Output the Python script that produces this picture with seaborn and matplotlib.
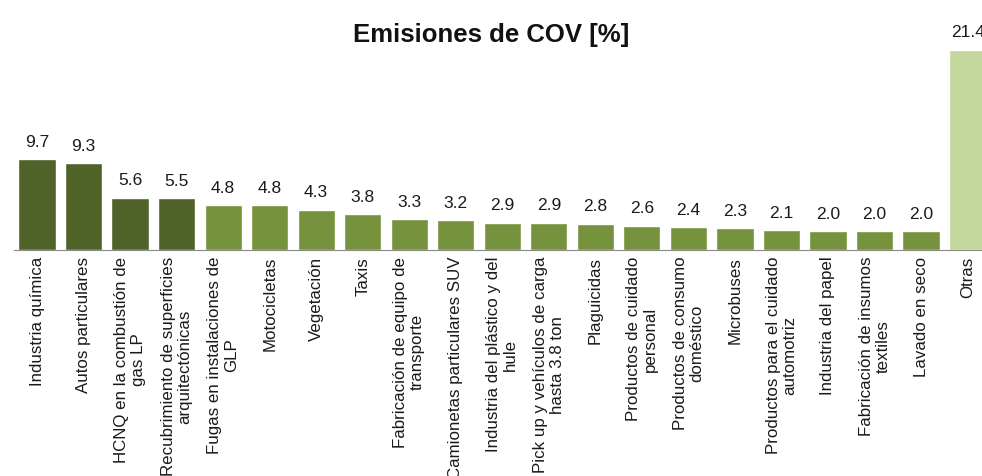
import numpy as np
import pandas as pd
import seaborn as sns
import matplotlib
matplotlib.use('Agg')
import matplotlib.pyplot as plt

categories = ['Industria química', 'Autos particulares',
              'HCNQ en la combustión de\ngas LP',
              'Recubrimiento de superficies\narquitectónicas',
              'Fugas en instalaciones de\nGLP', 'Motocicletas', 'Vegetación',
              'Taxis', 'Fabricación de equipo de\ntransporte',
              'Camionetas particulares SUV',
              'Industria del plástico y del\nhule',
              'Pick up y vehículos de carga\nhasta 3.8 ton', 'Plaguicidas',
              'Productos de cuidado\npersonal',
              'Productos de consumo\ndoméstico', 'Microbuses',
              'Productos para el cuidado\nautomotriz', 'Industria del papel',
              'Fabricación de insumos\ntextiles', 'Lavado en seco', 'Otras']
values = [9.7, 9.3, 5.6, 5.5, 4.8, 4.8, 4.3, 3.8, 3.3, 3.2, 2.9, 2.9, 2.8,
          2.6, 2.4, 2.3, 2.1, 2.0, 2.0, 2.0, 21.4]
groups = ['top'] * 4 + ['mid'] * 16 + ['otras']
group_colors = {'top': '#4F6228', 'mid': '#76923C', 'otras': '#C3D69B'}

df = pd.DataFrame({'fuente': categories, 'pct': values, 'grupo': groups})

sns.set_style('white')
plt.rcParams['font.family'] = ['Liberation Sans', 'DejaVu Sans']

fig = plt.figure(figsize=(9.82, 4.76), dpi=100)
ax = fig.add_axes([0.014, 0.475, 0.995, 0.452])

sns.barplot(data=df, x='fuente', y='pct', hue='grupo', palette=group_colors,
            dodge=False, width=0.8, saturation=1, legend=False, ax=ax)

# value labels above every bar
for i, v in enumerate(values):
    ax.text(i, v + 1.0, f'{v:.1f}', ha='center', va='bottom', fontsize=12.5,
            color='#1a1a1a')

ax.set_ylim(0, 23)
ax.set_xlim(-0.5, len(categories) - 0.5)
ax.set_xlabel('')
ax.set_ylabel('')
ax.set_yticks([])

ax.set_xticks(range(len(categories)))
ax.set_xticklabels(categories, rotation=90, ha='center', va='top',
                   multialignment='center', fontsize=12.2, linespacing=1.15,
                   color='#1a1a1a')
ax.tick_params(axis='x', which='major', length=0, pad=5)
ax.set_xticks(np.arange(-0.5, len(categories), 1.0), minor=True)
ax.tick_params(axis='x', which='minor', length=4, color='#8a8a8a',
               direction='inout')

for side in ['top', 'right', 'left']:
    ax.spines[side].set_visible(False)
ax.spines['bottom'].set_color('#8a8a8a')
ax.spines['bottom'].set_linewidth(0.8)

fig.text(0.5, 1 - 35 / 476, 'Emisiones de COV [%]', ha='center',
         va='center', fontsize=18.5, fontweight='bold', color='#111111')

fig.savefig('out.png', dpi=100)
